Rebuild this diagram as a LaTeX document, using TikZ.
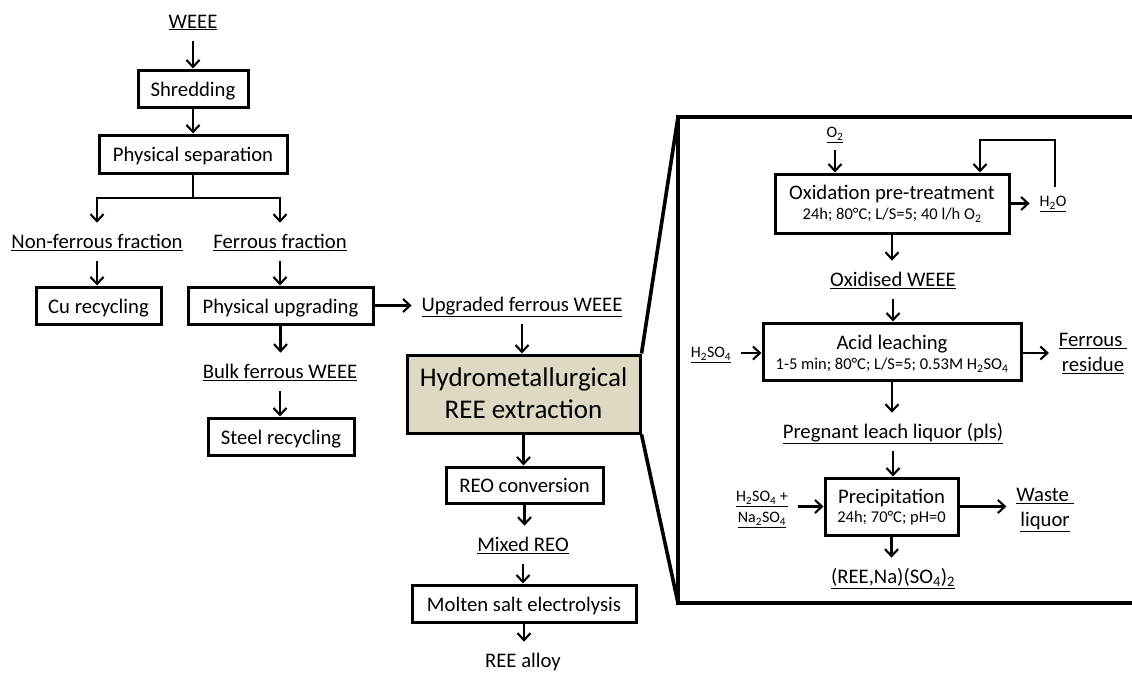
\documentclass[tikz,border=0pt]{standalone}
\usepackage{fontspec}
\setmainfont{Carlito}
\usetikzlibrary{arrows.meta}
\newcommand{\myfs}[1]{\fontsize{#1}{#1}\selectfont}
\newcommand{\chsub}[1]{\textsubscript{#1}}
\definecolor{hydrofill}{RGB}{221,217,195}
\begin{document}
\begin{tikzpicture}[x=1pt,y=-1pt,
  tA/.style={inner sep=0pt, outer sep=0pt, text height=15.5pt, text depth=3.1pt, font=\myfs{20.7}},
  tB/.style={inner sep=0pt, outer sep=0pt, text height=20.2pt, text depth=4pt, font=\myfs{27}},
  tC/.style={inner sep=0pt, outer sep=0pt, text height=12.4pt, text depth=2.5pt, font=\myfs{16.5}},
  tD/.style={inner sep=0pt, outer sep=0pt, text height=12pt, text depth=2.4pt, font=\myfs{16}},
  lab/.style={tA, outer sep=10pt},
  clab/.style={tD, outer sep=10pt},
  box/.style={draw, line width=3pt, inner sep=0pt, text height=16.5pt, text depth=1.5pt, font=\myfs{20.7}},
  ln/.style={line width=2.1pt},
  arr/.style={ln, -{Straight Barb[length=7pt,width=13pt]}},
  frame/.style={line width=3.6pt, line join=miter}]
\useasboundingbox (0,0) rectangle (1132,672);
% left column
\node[lab] (weee) at (193,22) {\underline{WEEE}};
\node[box, minimum width=110pt, minimum height=37pt] (shred) at (193,88.5) {Shredding};
\node[box, minimum width=188pt, minimum height=38pt] (psep) at (193,154) {Physical separation};
\node[lab] (nonfer) at (97,242) {\underline{Non-ferrous fraction}};
\node[lab] (fer) at (280,242) {\underline{Ferrous fraction}};
\node[box, minimum width=125pt, minimum height=37pt] (cu) at (98.5,305.5) {Cu recycling};
\node[box, minimum width=185pt, minimum height=37pt] (upg) at (280.5,305.5) {Physical upgrading};
\node[lab] (bulk) at (280,372) {\underline{Bulk ferrous WEEE}};
\node[box, minimum width=146pt, minimum height=37pt] (steel) at (281,436.5) {Steel recycling};
\node[lab] (upgr) at (522,305) {\underline{Upgraded ferrous WEEE}};
\node[box, fill=hydrofill, minimum width=233pt, minimum height=78pt] (hydro) at (523.5,394) {};
\node[tB] (hy1) at (523.5,378) {Hydrometallurgical};
\node[tB] (hy2) at (523.5,410) {REE extraction};
\node[box, minimum width=157pt, minimum height=36pt] (reo) at (524.5,485) {REO conversion};
\node[lab] (mixed) at (523,545) {\underline{Mixed REO}};
\node[box, minimum width=224pt, minimum height=37pt] (molten) at (524,603.5) {Molten salt electrolysis};
\node[lab] (alloy) at (523,661) {REE alloy};
\draw[arr] (weee) -- (shred);
\draw[arr] (shred) -- (psep);
\coordinate (br) at (193,198);
\draw[ln] (psep) -- (br);
\draw[arr] (br) -| (nonfer);
\draw[arr] (br) -| (fer);
\draw[arr] (nonfer.south) -- (nonfer.south |- cu.north);
\draw[arr] (fer.south) -- (fer.south |- upg.north);
\draw[arr] (upg.east) -- (upg.east -| upgr.west);
\draw[arr] (upg.south) -- (upg.south |- bulk.north);
\draw[arr] (bulk.south) -- (bulk.south |- steel.north);
\draw[arr] (upgr.south) -- (upgr.south |- hydro.north);
\draw[arr] (hydro.south) -- (hydro.south |- reo.north);
\draw[arr] (reo.south) -- (reo.south |- mixed.north);
\draw[arr] (mixed.south) -- (mixed.south |- molten.north);
\draw[arr] (molten.south) -- (molten.south |- alloy.north);
% frame
\coordinate (ftl) at (678,117);
\coordinate (fbl) at (678,603);
\coordinate (ftr) at (1132,117);
\coordinate (fbr) at (1132,603);
\draw[frame] (ftr) -- (ftl) -- (fbl) -- (fbr);
\draw[frame] (hydro.north east) -- (ftl);
\draw[frame] (hydro.south east) -- (fbl);
% right panel
\node[clab] (o2) at (835,133) {\underline{O\chsub{2}}};
\node[box, minimum width=234pt, minimum height=59pt] (ox) at (892,203.5) {};
\node[tA] (oxt) at (892,193) {Oxidation pre-treatment};
\node[tC] (oxs) at (892,215) {24h; 80°C; L/S=5; 40 l/h O\chsub{2}};
\node[clab] (h2o) at (1053,202) {\underline{H\chsub{2}O}};
\draw[arr] (o2.south) -- (o2.south |- ox.north);
\draw[arr] (ox.east) -- (ox.east -| h2o.west);
\coordinate (lpa) at (1055,187);
\coordinate (lpb) at (980,140);
\draw[arr] (lpa) |- (lpb) -- (lpb |- ox.north);
\node[lab] (oxw) at (893,280) {\underline{Oxidised WEEE}};
\draw[arr] (ox.south) -- (ox.south |- oxw.north);
\node[box, minimum width=258pt, minimum height=57pt] (acid) at (892,351.5) {};
\node[tA] (act) at (892,343) {Acid leaching};
\node[tC] (acs) at (892,365) {1-5 min; 80°C; L/S=5; 0.53M H\chsub{2}SO\chsub{4}};
\draw[arr] (oxw.south) -- (oxw.south |- acid.north);
\node[clab] (h2so4) at (711,353) {\underline{H\chsub{2}SO\chsub{4}}};
\draw[arr] (h2so4.east) -- (h2so4.east -| acid.west);
\node[lab] (fr1) at (1093,340) {\underline{Ferrous\ }};
\node[lab] (fr2) at (1093,365) {\underline{residue}};
\coordinate (frin) at (fr1.west |- h2so4);
\draw[arr] (acid.east |- h2so4) -- (frin);
\node[lab] (pls) at (893,432) {\underline{Pregnant leach liquor (pls)}};
\draw[arr] (acid.south) -- (acid.south |- pls.north);
\node[box, minimum width=133pt, minimum height=57pt] (prec) at (891.5,506.5) {};
\node[tA] (prt) at (891.5,497) {Precipitation};
\node[tC] (prs) at (891.5,518) {24h; 70°C; pH=0};
\draw[arr] (pls.south) -- (pls.south |- prec.north);
\node[clab] (na1) at (762,497) {\underline{H\chsub{2}SO\chsub{4} +}};
\node[clab] (na2) at (762,518) {\underline{Na\chsub{2}SO\chsub{4}}};
\draw[arr] (na1.east |- prec.west) -- (prec.west);
\node[lab] (wa1) at (1045,495) {\underline{Waste\ }};
\node[lab] (wa2) at (1045,520) {\underline{liquor}};
\draw[arr] (prec.east) -- (prec.east -| wa1.west);
\node[lab] (prod) at (893,577) {\underline{(REE,Na)(SO\chsub{4})\chsub{2}}};
\draw[arr] (prec.south) -- (prec.south |- prod.north);
\end{tikzpicture}
\end{document}
